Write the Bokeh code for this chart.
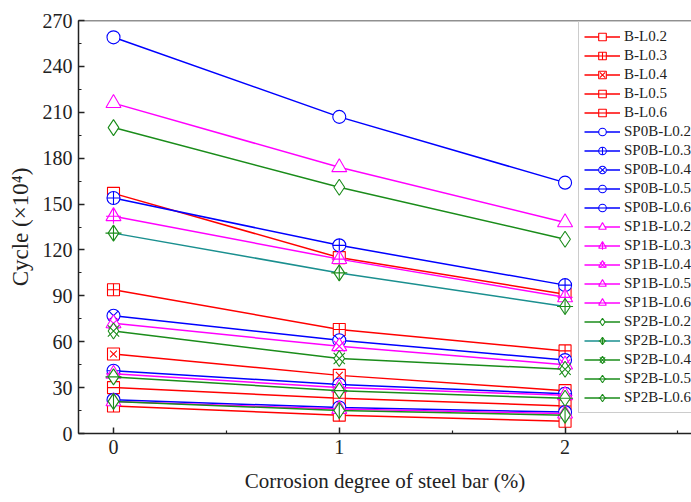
import math
from bokeh.plotting import figure
from bokeh.models import Range1d, FixedTicker, SingleIntervalTicker, Legend, LegendItem, Span
from bokeh.embed import file_html
from bokeh.resources import INLINE

# ---------------- data ----------------
corrosion = [0, 1, 2]
tick_labels_x = ["0", "1", "2"]

B_L02 = [157, 115, 91]
B_L03 = [94, 68, 54]
B_L04 = [52, 38, 28]
B_L05 = [30, 23, 18]
B_L06 = [18, 12, 8]

SP0B_L02 = [259, 207, 164]
SP0B_L03 = [154, 123, 97]
SP0B_L04 = [77, 61, 48]
SP0B_L05 = [41, 32, 26]
SP0B_L06 = [22, 17, 14]

SP1B_L02 = [216, 174, 138]
SP1B_L03 = [142, 114, 89]
SP1B_L04 = [72, 57, 45]
SP1B_L05 = [39, 30, 25]
SP1B_L06 = [21, 16, 13]

SP2B_L02 = [200, 161, 127]
SP2B_L03 = [131, 105, 83]
SP2B_L04 = [67, 49, 42]
SP2B_L05 = [37, 28, 23]
SP2B_L06 = [21, 15, 12]

labels = ["B-L0.2", "B-L0.3", "B-L0.4", "B-L0.5", "B-L0.6",
          "SP0B-L0.2", "SP0B-L0.3", "SP0B-L0.4", "SP0B-L0.5", "SP0B-L0.6",
          "SP1B-L0.2", "SP1B-L0.3", "SP1B-L0.4", "SP1B-L0.5", "SP1B-L0.6",
          "SP2B-L0.2", "SP2B-L0.3", "SP2B-L0.4", "SP2B-L0.5", "SP2B-L0.6"]
values = [B_L02, B_L03, B_L04, B_L05, B_L06,
          SP0B_L02, SP0B_L03, SP0B_L04, SP0B_L05, SP0B_L06,
          SP1B_L02, SP1B_L03, SP1B_L04, SP1B_L05, SP1B_L06,
          SP2B_L02, SP2B_L03, SP2B_L04, SP2B_L05, SP2B_L06]

# ---------------- styles ----------------
RED, BLUE, MAG, GRN, TEAL = "#ff0000", "#0000ff", "#ff00ff", "#1a8c1a", "#1a8f8f"
group_style = {
    "B": (RED, "square", 12),
    "SP0B": (BLUE, "circle", 13),
    "SP1B": (MAG, "triangle", 15),
    "SP2B": (GRN, "diamond", 16),
}
level_overlay = {
    "L0.2": [],
    "L0.3": [("cross", 0)],
    "L0.4": [("x", 0)],
    "L0.5": [("dash", 0)],
    "L0.6": [("dash", math.pi / 2)],
}

p = figure(width=691, height=502, output_backend="svg", toolbar_location=None,
           x_range=Range1d(-0.155, 2.56), y_range=Range1d(0, 270),
           min_border_left=78, min_border_right=0, min_border_top=20, min_border_bottom=69)
p.outline_line_color = None
p.xgrid.visible = False
p.ygrid.visible = False
p.background_fill_color = "white"
p.border_fill_color = "white"

items = []
for lab, vals in zip(labels, values):
    grp, lvl = lab.split("-")
    color, base, size = group_style[grp]
    lcolor = TEAL if lab == "SP2B-L0.3" else color
    rs = []
    rs.append(p.line(corrosion, vals, line_color=lcolor, line_width=1.5))
    rs.append(p.scatter(corrosion, vals, marker=base, size=size, line_color=color,
                        fill_color="white", line_width=1.1))
    for mk, ang in level_overlay[lvl]:
        osize = size
        if base == "square" and mk == "x":
            osize = size * 0.8
        rs.append(p.scatter(corrosion, vals, marker=mk, size=osize, angle=ang,
                            line_color=color, line_width=1.1))
    items.append(LegendItem(label=lab, renderers=rs))

top_line = Span(location=270, dimension="width", line_color="#222222", line_width=1.5)
p.add_layout(top_line)

for ax in (p.xaxis[0], p.yaxis[0]):
    ax.axis_line_color = "#222222"
    ax.axis_line_width = 1.5
    ax.major_tick_line_color = "#222222"
    ax.minor_tick_line_color = "#222222"
    ax.major_tick_line_width = 1.5
    ax.minor_tick_line_width = 1.2
    ax.major_tick_in = 6
    ax.major_tick_out = 0
    ax.minor_tick_in = 3
    ax.minor_tick_out = 0
    ax.major_label_text_color = "#222222"
    ax.axis_label_text_color = "#222222"
    ax.axis_label_text_font_style = "normal"

p.xaxis.ticker = FixedTicker(ticks=corrosion, minor_ticks=[0.5, 1.5, 2.5])
p.xaxis.major_label_overrides = {c: t for c, t in zip(corrosion, tick_labels_x)}
p.xaxis.major_label_text_font = "Liberation Serif"
p.xaxis.major_label_text_font_size = "20px"
p.xaxis.major_label_standoff = 6
p.xaxis.axis_label = "Corrosion degree of steel bar (%)"
p.xaxis.axis_label_text_font = "Liberation Serif"
p.xaxis.axis_label_text_font_size = "21px"
p.xaxis.axis_label_standoff = 12

p.yaxis.ticker = SingleIntervalTicker(interval=30, num_minor_ticks=2)
p.yaxis.major_label_text_font = "Liberation Serif"
p.yaxis.major_label_text_font_size = "20px"
p.yaxis.major_label_standoff = 6
p.yaxis.axis_label = "Cycle (\u00d710\u2074)"
p.yaxis.axis_label_text_font = "Liberation Serif"
p.yaxis.axis_label_text_font_size = "23px"
p.yaxis.axis_label_standoff = 7

legend = Legend(items=items, location=(500, 20))
legend.label_text_font = "Liberation Serif"
legend.label_text_font_size = "15px"
legend.label_text_color = "#222222"
legend.glyph_width = 36
legend.glyph_height = 19
legend.label_height = 19
legend.spacing = 0
legend.padding = 5
legend.margin = 0
legend.label_standoff = 4
legend.border_line_color = "#999999"
legend.border_line_width = 1.2
legend.background_fill_color = "white"
legend.background_fill_alpha = 1.0
p.add_layout(legend)

open("out.html", "w").write(file_html(p, INLINE))
